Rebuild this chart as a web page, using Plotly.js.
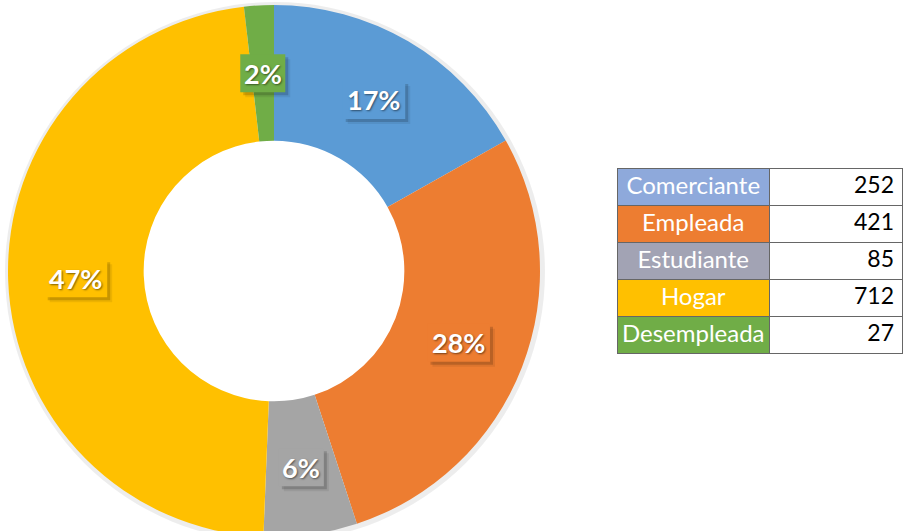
<!DOCTYPE html>
<html>
<head>
<meta charset="utf-8">
<script src="https://cdn.plot.ly/plotly-3.0.1.min.js"></script>
<style>
  html, body { margin: 0; padding: 0; overflow: hidden; background: #fff; }
  #graph_container { width: 903px; height: 545px; }
</style>
</head>
<body>
<div id="graph_container"></div>
<script>
var categories = ['Comerciante', 'Empleada', 'Estudiante', 'Hogar', 'Desempleada'];
var counts = [252, 421, 85, 712, 27];
var pct_labels = ['17%', '28%', '6%', '47%', '2%'];
var slice_colors = ['#5B9BD5', '#ED7D31', '#A5A5A5', '#FFC000', '#70AD47'];
var cell_colors = ['#8EA9DB', '#ED7D31', '#A2A3B4', '#FFC000', '#70AD47'];

var W = 903, H = 545;
// donut geometry in page pixels
var cx = 274, cy = 271, R = 266, HOLE = 0.49;
var labelR = R * (1 + HOLE) / 2;

var donut = {
    type: 'pie',
    labels: categories,
    values: counts,
    textinfo: 'none',
    hole: HOLE,
    sort: false,
    direction: 'clockwise',
    rotation: 0,
    marker: { colors: slice_colors, line: { color: '#ffffff', width: 0 } },
    showlegend: false,
    domain: { x: [(cx - R) / W, (cx + R) / W], y: [1 - (cy + R) / H, 1 - (cy - R) / H] }
};

// soft halo under the donut
var halo = {
    type: 'pie',
    values: [1],
    textinfo: 'none',
    hoverinfo: 'skip',
    hole: 0.9,
    sort: false,
    marker: { colors: ['rgba(0,0,0,0.07)'], line: { width: 0 } },
    showlegend: false,
    domain: { x: [(cx - R - 3) / W, (cx + R + 5) / W], y: [1 - (cy + R + 5) / H, 1 - (cy - R - 3) / H] }
};

// percentage labels placed at the middle of the ring, with a drop shadow box
var total = counts.reduce(function (a, b) { return a + b; }, 0);
var annotations = [];
var shapes = [];
var cum = 0;
counts.forEach(function (v, i) {
    var mid = (cum + v / 2) / total * 2 * Math.PI;
    cum += v;
    var px = cx + labelR * Math.sin(mid);
    var py = cy - labelR * Math.cos(mid);
    var bw = 17.5 * pct_labels[i].length + 10, bh = 38;
    [[5, 0.07], [3, 0.16]].forEach(function (s) {
        shapes.push({
            type: 'rect', layer: 'above',
            xref: 'paper', yref: 'paper',
            xsizemode: 'pixel', ysizemode: 'pixel',
            xanchor: px / W, yanchor: 1 - py / H,
            x0: -bw / 2 + s[0], x1: bw / 2 + s[0],
            y0: -bh / 2 - s[0], y1: bh / 2 - s[0],
            fillcolor: 'rgba(0,0,0,' + s[1] + ')',
            line: { width: 0 }
        });
    });
    shapes.push({
        type: 'rect', layer: 'above',
        xref: 'paper', yref: 'paper',
        xsizemode: 'pixel', ysizemode: 'pixel',
        xanchor: px / W, yanchor: 1 - py / H,
        x0: -bw / 2, x1: bw / 2, y0: -bh / 2, y1: bh / 2,
        fillcolor: slice_colors[i],
        line: { width: 0 }
    });
    annotations.push({
        xref: 'paper', yref: 'paper',
        x: px / W, y: 1 - py / H,
        xanchor: 'center', yanchor: 'middle',
        showarrow: false,
        text: pct_labels[i],
        font: {
            family: 'Lato, "Open Sans", sans-serif', size: 27, weight: 'bold', color: '#ffffff',
            shadow: '1px 1px 2px rgba(0,0,0,0.5)'
        }
    });
});

var white_cells = categories.map(function () { return '#ffffff'; });
var label_fonts = categories.map(function () { return '#ffffff'; });
var value_fonts = categories.map(function () { return '#000000'; });

// first row goes in the header so the table has no empty header line
var table = {
    type: 'table',
    columnwidth: [153, 133],
    header: {
        values: [[categories[0]], [counts[0]]],
        align: ['center', 'right'],
        height: 37,
        fill: { color: [cell_colors[0], '#ffffff'] },
        line: { color: '#666666', width: 1 },
        font: { family: 'Lato, "Open Sans", sans-serif', size: [24, 23], color: ['#ffffff', '#000000'] }
    },
    cells: {
        values: [categories.slice(1), counts.slice(1)],
        align: ['center', 'right'],
        height: 37,
        fill: { color: [cell_colors.slice(1), white_cells.slice(1)] },
        line: { color: '#666666', width: 1 },
        font: { family: 'Lato, "Open Sans", sans-serif', size: [24, 23], color: [label_fonts.slice(1), value_fonts.slice(1)] }
    },
    domain: { x: [617 / W, 902 / W], y: [1 - 362 / H, 1 - 168 / H] }
};

var layout = {
    width: W,
    height: H,
    margin: { l: 0, r: 0, t: 0, b: 0 },
    paper_bgcolor: '#ffffff',
    annotations: annotations,
    shapes: shapes,
    showlegend: false
};

Plotly.newPlot('graph_container', [halo, donut, table], layout, { displayModeBar: false });
</script>
</body>
</html>
